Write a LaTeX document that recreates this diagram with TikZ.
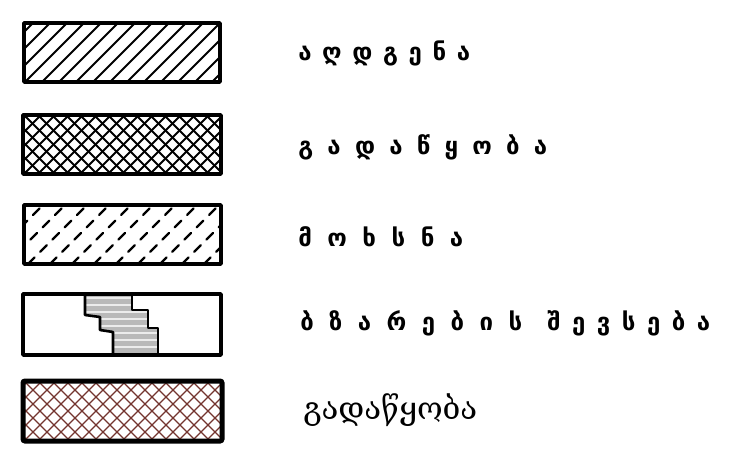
\documentclass[tikz,border=0pt]{standalone}
\usepackage{fontspec}
\setmainfont{DejaVu Sans}
\newfontfamily\geo{DejaVu Sans}
\newfontfamily\geoserif{DejaVu Serif}
\newlength\pxu
\setlength\pxu{0.75pt}
\definecolor{hatchbrown}{RGB}{115,52,46}
\begin{document}
\begin{tikzpicture}[x=0.75pt,y=-0.75pt,
  frame/.style={draw=black,line width=3.5pt*0.75,line join=round},
  thickframe/.style={draw=black,line width=5pt*0.75,rounded corners=1.5pt},
  hatchline/.style={line width=2pt*0.75,line cap=round},
  crossline/.style={line width=1.8pt*0.75},
  dashline/.style={line width=2.2pt*0.75,dash pattern=on 7pt off 6pt,line cap=round},
  brownline/.style={draw=hatchbrown,line width=1.2pt*0.75},
  hand/.style={anchor=west,inner sep=0pt,font=\geo\bfseries\fontsize{18}{20}\selectfont},
  printed/.style={anchor=west,inner sep=0pt,font=\geoserif\fontsize{16}{18}\selectfont}]
\useasboundingbox (0,0) rectangle (741,460);

% ---- box 1: diagonal hatch
\coordinate (b1a) at (24,23); \coordinate (b1b) at (220,82);
\begin{scope}
\clip (b1a) rectangle (b1b);
\foreach \x in {-60,-43,...,230} \draw[hatchline] (\x,82) -- ++(59,-59);
\end{scope}
\draw[frame] (b1a) rectangle (b1b);

% ---- box 2: cross hatch
\coordinate (b2a) at (23,115); \coordinate (b2b) at (221,174);
\begin{scope}
\clip (b2a) rectangle (b2b);
\foreach \x in {-60,-46,...,230} {
  \draw[crossline] (\x,174) -- ++(59,-59);
  \draw[crossline] (\x,115) -- ++(59,59);
}
\end{scope}
\draw[frame] (b2a) rectangle (b2b);

% ---- box 3: dashed diagonal hatch
\coordinate (b3a) at (24,205); \coordinate (b3b) at (221,264);
\begin{scope}
\clip (b3a) rectangle (b3b);
\foreach \x in {-60,-38,...,240} \draw[dashline] (\x,264) -- ++(59,-59);
\end{scope}
\draw[frame] (b3a) rectangle (b3b);

% ---- box 4: stepped joint
\coordinate (b4a) at (23,294); \coordinate (b4b) at (221,355);
\begin{scope}
\clip (85,294) -- (85,315) -- (100,317) -- (100,330) -- (113,332) -- (113,355)
      -- (158,355) -- (158,328) -- (148,328) -- (148,310) -- (132,310) -- (132,294) -- cycle;
\fill[gray!55] (80,294) rectangle (160,355);
\foreach \y in {298,305,312,319,326,333,340,347} \draw[white!85!gray,line width=2.2pt*0.75] (80,\y) -- (160,\y);
\end{scope}
\draw[line width=2.6pt*0.75,line join=round] (85,294) -- (85,315) -- (100,317) -- (100,330) -- (113,332) -- (113,355);
\draw[line width=2.6pt*0.75,line join=round] (132,294) -- (132,310) -- (148,310) -- (148,328) -- (158,328) -- (158,355);
\draw[frame] (b4a) rectangle (b4b);

% ---- box 5: brown cross hatch, heavy frame
\coordinate (b5a) at (23,381); \coordinate (b5b) at (222,441);
\begin{scope}
\clip (b5a) rectangle (b5b);
\foreach \x in {-60,-46,...,240} {
  \draw[brownline] (\x,441) -- ++(60,-60);
  \draw[brownline] (\x,381) -- ++(60,60);
}
\end{scope}
\draw[thickframe] (b5a) rectangle (b5b);

% ---- labels
\node[hand] (l1) at (298,53) {\makebox[172\pxu][s]{ა\hfill ღ\hfill დ\hfill გ\hfill ე\hfill ნ\hfill ა}};
\node[hand] (l2) at (298,147) {\makebox[249\pxu][s]{გ\hfill ა\hfill დ\hfill ა\hfill წ\hfill ყ\hfill ო\hfill ბ\hfill ა}};
\node[hand] (l3) at (298,237) {\makebox[165\pxu][s]{მ\hfill ო\hfill ხ\hfill ს\hfill ნ\hfill ა}};
\node[hand] (l4a) at (300,323) {\makebox[222\pxu][s]{ბ\hfill ზ\hfill ა\hfill რ\hfill ე\hfill ბ\hfill ი\hfill ს}};
\node[hand] (l4b) at (547,323) {\makebox[163\pxu][s]{შ\hfill ე\hfill ვ\hfill ს\hfill ე\hfill ბ\hfill ა}};
\node[printed] (l5) at (303,410) {\resizebox{174\pxu}{!}{გადაწყობა}};
\end{tikzpicture}
\end{document}
